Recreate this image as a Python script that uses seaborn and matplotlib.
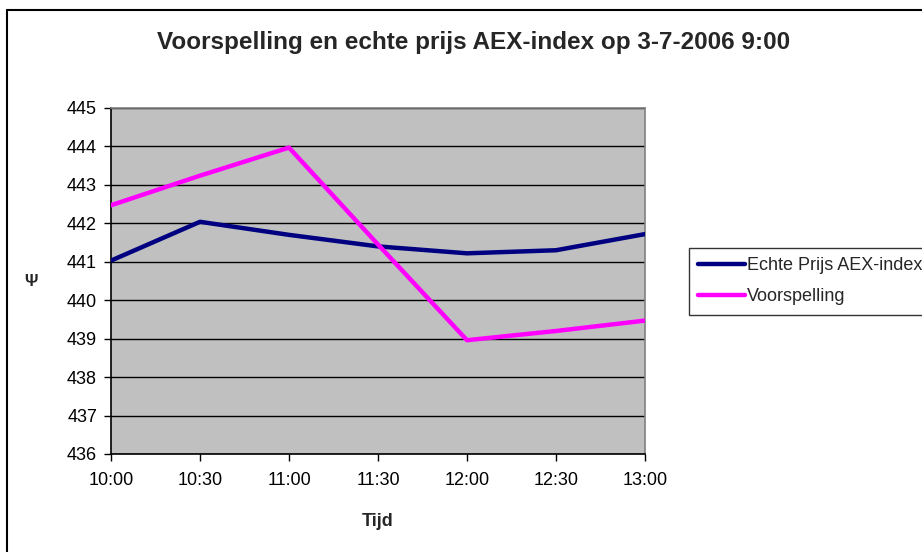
import matplotlib
matplotlib.use("Agg")
import matplotlib.pyplot as plt
import seaborn as sns
import pandas as pd
from matplotlib.lines import Line2D

tijden = ["10:00", "10:30", "11:00", "11:30", "12:00", "12:30", "13:00"]
echte_prijs = [441.03, 442.04, 441.70, 441.40, 441.22, 441.30, 441.72]
voorspelling = [442.47, 443.24, 443.97, 441.45, 438.96, 439.20, 439.47]
series_names = ["Echte Prijs AEX-index", "Voorspelling"]
y_ticks = [436, 437, 438, 439, 440, 441, 442, 443, 444, 445]

sns.set_style("white")
plt.rcParams["font.family"] = ["Liberation Sans", "DejaVu Sans"]

df = pd.DataFrame({
    "Tijd": tijden * 2,
    "pos": list(range(len(tijden))) * 2,
    "waarde": echte_prijs + voorspelling,
    "reeks": [series_names[0]] * len(tijden) + [series_names[1]] * len(tijden),
})

fig = plt.figure(figsize=(9.22, 5.52), dpi=100)
ax = fig.add_axes([111 / 922, 1 - 454 / 552, (645 - 111) / 922, (454 - 108) / 552])
ax.set_facecolor("#C0C0C0")

sns.lineplot(data=df, x="pos", y="waarde", hue="reeks", sort=False,
             palette={series_names[0]: "#000080", series_names[1]: "#FF00FF"},
             linewidth=3.2, ax=ax, legend=True, zorder=3)

ax.set_xlim(0, len(tijden) - 1)
ax.set_ylim(y_ticks[0], y_ticks[-1])
ax.set_xticks(range(len(tijden)))
ax.set_xticklabels(tijden)
ax.set_yticks(y_ticks)
ax.set_yticklabels([str(v) for v in y_ticks])
ax.grid(axis="y", color="black", linewidth=1.0, zorder=1)
ax.grid(axis="x", visible=False)
ax.set_axisbelow(True)

for s in ["top", "right"]:
    ax.spines[s].set_color("#808080")
    ax.spines[s].set_linewidth(1.2)
for s in ["left", "bottom"]:
    ax.spines[s].set_color("black")
    ax.spines[s].set_linewidth(1.2)

ax.tick_params(axis="both", direction="out", length=5, width=1, color="black",
               labelsize=13, labelcolor="black", bottom=True, left=True)
ax.tick_params(axis="x", pad=8)
ax.tick_params(axis="y", pad=5)

ax.set_xlabel("Tijd", fontsize=13, fontweight="bold", labelpad=17)
ax.set_ylabel("Ψ", fontsize=12, fontweight="bold", rotation=0, labelpad=26, va="center")

fig.suptitle("Voorspelling en echte prijs AEX-index op 3-7-2006 9:00",
             fontsize=17.5, fontweight="bold", x=474 / 922, y=1 - 43 / 552, va="center")

handles, labels = ax.get_legend_handles_labels()
ax.get_legend().remove()
leg = fig.legend(handles, labels, loc="upper left",
                 bbox_to_anchor=(689 / 922, 1 - 248 / 552),
                 frameon=True, fancybox=False, shadow=False, fontsize=13,
                 handlelength=2.6, handletextpad=0.1, borderpad=0.5,
                 labelspacing=0.8, borderaxespad=0)
leg.get_frame().set_edgecolor("black")
leg.get_frame().set_linewidth(1.0)
for line in leg.get_lines():
    line.set_linewidth(3.2)

# chart area border (only left and top edges are visible in the reference)
fig.add_artist(Line2D([7 / 922, 7 / 922], [0, 1 - 10 / 552], transform=fig.transFigure,
                      color="black", linewidth=1.5))
fig.add_artist(Line2D([7 / 922, 1], [1 - 10 / 552, 1 - 10 / 552], transform=fig.transFigure,
                      color="black", linewidth=1.5))

fig.savefig("out.png", dpi=100, facecolor="white")
